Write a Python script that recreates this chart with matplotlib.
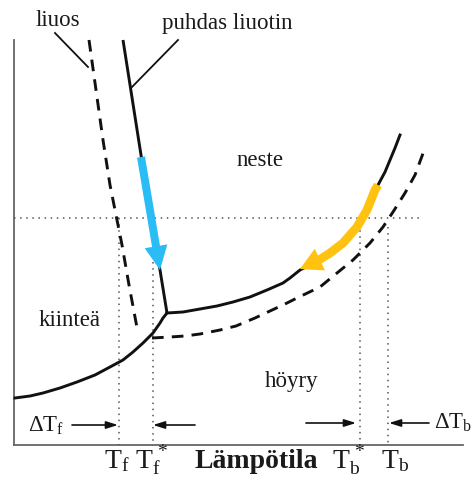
import matplotlib
matplotlib.use("Agg")
import matplotlib.pyplot as plt
from matplotlib.patches import FancyArrow, Polygon
import numpy as np

plt.rcParams['font.family'] = ['Liberation Serif', 'DejaVu Serif']
plt.rcParams['mathtext.fontset'] = 'custom'
plt.rcParams['mathtext.rm'] = 'Liberation Serif'
plt.rcParams['mathtext.it'] = 'Liberation Serif:italic'
plt.rcParams['mathtext.bf'] = 'Liberation Serif:bold'

# ---- data (schematic diagram, image-pixel coordinates) ----
pure_fusion_x = [123, 141, 160, 167]
pure_fusion_y = [40, 155, 270, 313]

pure_sublim_x = [15, 30, 43, 60, 77, 95, 110, 123, 133, 143, 153, 160, 163, 167]
pure_sublim_y = [398, 396, 393, 388, 382, 375, 367, 360, 352, 343, 333, 323, 318, 313]

pure_vap_x = [167, 183, 200, 217, 233, 250, 267, 283, 290, 300, 318, 330, 343,
              357, 367, 375, 378, 385, 390, 395, 400]
pure_vap_y = [313, 312, 309, 306, 302, 297, 290, 283, 278, 270, 261, 253, 243,
              227, 210, 190, 185, 172, 160, 148, 135]

sol_fusion_x = [89, 96, 103, 110, 117, 122, 129, 138]
sol_fusion_y = [40, 90, 140, 185, 220, 245, 285, 333]

sol_vap_x = [152, 170, 185, 200, 220, 236, 255, 270, 285, 299, 320, 337, 353,
             370, 383, 393, 405, 415, 425]
sol_vap_y = [338, 337, 336, 334, 330, 326, 318, 311, 304, 297, 287, 273, 260,
             243, 227, 212, 193, 175, 148]

blue_arrow_x = [141, 160]
blue_arrow_y = [157, 270]

yellow_arrow_x = [378, 375, 367, 357, 343, 330, 319, 300]
yellow_arrow_y = [185, 190, 210, 227, 243, 253, 260, 269]

ref_pressure_y = 218
ref_x_range = [14, 423]
T_lines_x = [119, 153, 360, 388]
T_lines_top = [218, 262, 218, 227]
axis_bottom_y = 445
axis_left_x = 14

labels_bottom = [r'$\mathrm{T}_\mathrm{f}$', r'$\mathrm{T}_\mathrm{f}^{\,*}$',
                 'Lämpötila', r'$\mathrm{T}_\mathrm{b}^{\,*}$', r'$\mathrm{T}_\mathrm{b}$']
labels_bottom_x = [117, 152, 256, 349, 395]

# ---- figure ----
fig = plt.figure(figsize=(4.72, 4.80), dpi=100)
ax = fig.add_axes([0, 0, 1, 1])
ax.set_xlim(0, 472)
ax.set_ylim(480, 0)
ax.axis('off')

K = '#111111'
LW = 2.1

# axes lines
ax.plot([axis_left_x, axis_left_x], [40, axis_bottom_y], color='#666666', lw=1.3)
ax.plot([axis_left_x, 463], [axis_bottom_y, axis_bottom_y], color='#666666', lw=1.3)

# dotted reference lines
dot = (0, (1, 3))
ax.plot(ref_x_range, [ref_pressure_y, ref_pressure_y], color='#555555', lw=1.1, ls=dot)
for xv, top in zip(T_lines_x, T_lines_top):
    ax.plot([xv, xv], [top, axis_bottom_y], color='#555555', lw=1.1, ls=dot)

# pure solvent curves
ax.plot(pure_fusion_x, pure_fusion_y, color=K, lw=LW, solid_capstyle='butt')
ax.plot(pure_sublim_x, pure_sublim_y, color=K, lw=LW, solid_joinstyle='round')
ax.plot(pure_vap_x, pure_vap_y, color=K, lw=LW, solid_joinstyle='round')

# solution curves (dashed)
ax.plot(sol_fusion_x, sol_fusion_y, color=K, lw=LW, dashes=(4, 2.8))
ax.plot(sol_vap_x, sol_vap_y, color=K, lw=LW, dashes=(4, 2.8))

# blue arrow
ax.add_patch(FancyArrow(blue_arrow_x[0], blue_arrow_y[0],
                        blue_arrow_x[1] - blue_arrow_x[0], blue_arrow_y[1] - blue_arrow_y[0],
                        width=8, head_width=23, head_length=24,
                        length_includes_head=True, color='#29BCF5', lw=0, zorder=4))

# yellow curved arrow
YC = '#FFC20E'
ax.plot(yellow_arrow_x[:-1], yellow_arrow_y[:-1], color=YC, lw=6.3,
        solid_capstyle='butt', solid_joinstyle='round', zorder=4)
tip = np.array([yellow_arrow_x[-1], yellow_arrow_y[-1]], float)
base = np.array([yellow_arrow_x[-2], yellow_arrow_y[-2]], float)
d = tip - base
d /= np.hypot(*d)
hl = 22
hw = 12
bc = tip - d * hl
perp = np.array([-d[1], d[0]])
ax.add_patch(Polygon([tip, bc + perp * hw, bc - perp * hw], closed=True,
                     color=YC, lw=0, zorder=4))

# leader lines
ax.plot([55, 88], [33, 67], color=K, lw=1.3)
ax.plot([178, 132], [40, 87], color=K, lw=1.3)

# region labels
TC = '#1a1a1a'
fs = 16.5
ax.text(58, 20, 'liuos', fontsize=fs, ha='center', va='center', color=TC)
ax.text(227, 24, 'puhdas liuotin', fontsize=fs, ha='center', va='center', color=TC)
ax.text(260, 160, 'neste', fontsize=fs, ha='center', va='center', color=TC)
ax.text(70, 320, 'kiinteä', fontsize=fs, ha='center', va='center', color=TC)
ax.text(292, 381, 'höyry', fontsize=fs, ha='center', va='center', color=TC)

# delta T labels and arrows
ax.text(28, 426, r'$\Delta\mathrm{T}_\mathrm{f}$', fontsize=fs, ha='left', va='center', color=TC)
ax.text(434, 423, r'$\Delta\mathrm{T}_\mathrm{b}$', fontsize=fs, ha='left', va='center', color=TC)
ap = dict(arrowstyle='-|>,head_length=0.7,head_width=0.22', color=K, lw=1.2,
          shrinkA=0, shrinkB=0)
ax.annotate('', xy=(118, 425), xytext=(72, 425), arrowprops=ap)
ax.annotate('', xy=(153, 425), xytext=(195, 425), arrowprops=ap)
ax.annotate('', xy=(356, 423), xytext=(306, 423), arrowprops=ap)
ax.annotate('', xy=(389, 423), xytext=(429, 423), arrowprops=ap)

# bottom labels
for lab, xv in zip(labels_bottom, labels_bottom_x):
    w = 'bold' if lab == 'Lämpötila' else 'normal'
    ax.text(xv, 461, lab, fontsize=20, ha='center', va='center', color=TC, fontweight=w)

fig.savefig('out.png', dpi=100)
